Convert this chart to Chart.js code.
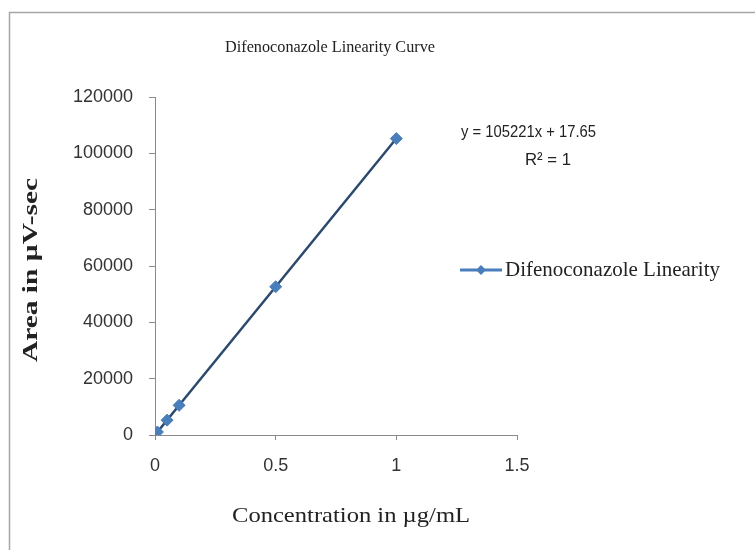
<!DOCTYPE html>
<html>
<head>
<meta charset="utf-8">
<script src="https://cdn.jsdelivr.net/npm/chart.js@4.4.0/dist/chart.umd.min.js"></script>
<style>
  html, body { margin: 0; padding: 0; background: #fff; }
  #wrap { width: 755px; height: 550px; }
</style>
</head>
<body>
<div id="wrap"><canvas id="chart"></canvas></div>
<script>
// Data
const concentrations = [0, 0.01, 0.05, 0.1, 0.5, 1];
const areas = [0, 1070, 5280, 10540, 52630, 105240];
const xTicks = [0, 0.5, 1, 1.5];
const yTicks = [0, 20000, 40000, 60000, 80000, 100000, 120000];

const chartTitle = 'Difenoconazole Linearity Curve';
const seriesName = 'Difenoconazole Linearity';
const xTitle = 'Concentration in µg/mL';
const yTitle = 'Area in µV-sec';
const equationLines = ['y = 105221x + 17.65', 'R² = 1'];

const serif = '"Liberation Serif", "DejaVu Serif", serif';
const sans = '"Liberation Sans", Arial, sans-serif';
const axisGray = '#8a8a8a';
const markerBlue = '#4a7ebb';
const lineDark = '#2c4a6e';

// draw text stretched to a given width along its baseline
function stretchedText(ctx, text, x, y, width, angle) {
    const natural = ctx.measureText(text).width;
    ctx.save();
    ctx.translate(x, y);
    ctx.rotate(angle || 0);
    ctx.scale(width / natural, 1);
    ctx.fillText(text, 0, 0);
    ctx.restore();
}

// Frame, titles, equation and legend, drawn like the Excel original
const decor = {
    id: 'decor',
    beforeDraw(chart) {
        const ctx = chart.ctx;
        ctx.save();
        ctx.fillStyle = '#fff';
        ctx.fillRect(0, 0, chart.width, chart.height);
        ctx.strokeStyle = '#a6a6a6';
        ctx.lineWidth = 1.5;
        ctx.strokeRect(9.5, 12.5, chart.width + 20, chart.height + 20);
        ctx.restore();
    },
    afterDraw(chart) {
        const ctx = chart.ctx;
        ctx.save();
        ctx.fillStyle = '#222';
        ctx.textBaseline = 'middle';
        ctx.textAlign = 'center';

        ctx.font = '17px ' + serif;
        ctx.fillText(chartTitle, 330, 48, 210);

        // axis titles
        ctx.font = '22px ' + serif;
        stretchedText(ctx, xTitle, 351, 516, 238);
        ctx.font = 'bold 21px ' + serif;
        stretchedText(ctx, yTitle, 32, 270, 184, -Math.PI / 2);

        // trendline label
        ctx.font = '17px ' + sans;
        ctx.textAlign = 'left';
        ctx.fillText(equationLines[0], 461, 132, 135);
        ctx.textAlign = 'center';
        ctx.fillText(equationLines[1], 548, 160, 46);

        // legend
        const ly = 270;
        ctx.strokeStyle = markerBlue;
        ctx.lineWidth = 3;
        ctx.beginPath();
        ctx.moveTo(460, ly);
        ctx.lineTo(502, ly);
        ctx.stroke();
        ctx.fillStyle = markerBlue;
        ctx.beginPath();
        ctx.moveTo(481, ly - 5);
        ctx.lineTo(486, ly);
        ctx.lineTo(481, ly + 5);
        ctx.lineTo(476, ly);
        ctx.closePath();
        ctx.fill();
        ctx.fillStyle = '#222';
        ctx.font = '21px ' + serif;
        ctx.textAlign = 'left';
        ctx.fillText(seriesName, 505, ly, 215);
        ctx.restore();
    }
};

new Chart(document.getElementById('chart'), {
    type: 'scatter',
    data: {
        datasets: [{
            label: seriesName,
            data: concentrations.map((x, i) => ({ x, y: areas[i] })),
            showLine: true,
            borderColor: lineDark,
            borderWidth: 2.5,
            pointStyle: 'rectRot',
            pointRadius: 6,
            pointBackgroundColor: markerBlue,
            pointBorderColor: markerBlue,
            pointBorderWidth: 1
        }]
    },
    options: {
        responsive: true,
        maintainAspectRatio: false,
        animation: false,
        layout: { padding: { left: 0, right: 238, top: 97, bottom: 0 } },
        plugins: {
            legend: { display: false },
            title: { display: false },
            tooltip: { enabled: false }
        },
        scales: {
            x: {
                type: 'linear',
                min: 0,
                max: 1.5,
                afterBuildTicks: s => { s.ticks = xTicks.map(v => ({ value: v })); },
                afterFit: s => { s.height = 115; },
                grid: { drawOnChartArea: false, tickLength: 5, color: axisGray },
                border: { color: axisGray, width: 1 },
                ticks: {
                    padding: 15,
                    color: '#333',
                    font: { family: sans, size: 18 },
                    callback: v => String(v)
                }
            },
            y: {
                type: 'linear',
                min: 0,
                max: 120000,
                afterBuildTicks: s => { s.ticks = yTicks.map(v => ({ value: v })); },
                afterFit: s => { s.width = 155; },
                grid: { drawOnChartArea: false, tickLength: 6, color: axisGray },
                border: { color: axisGray, width: 1 },
                ticks: {
                    padding: 16,
                    color: '#333',
                    font: { family: sans, size: 18 },
                    callback: v => String(v)
                }
            }
        }
    },
    plugins: [decor]
});
</script>
</body>
</html>
